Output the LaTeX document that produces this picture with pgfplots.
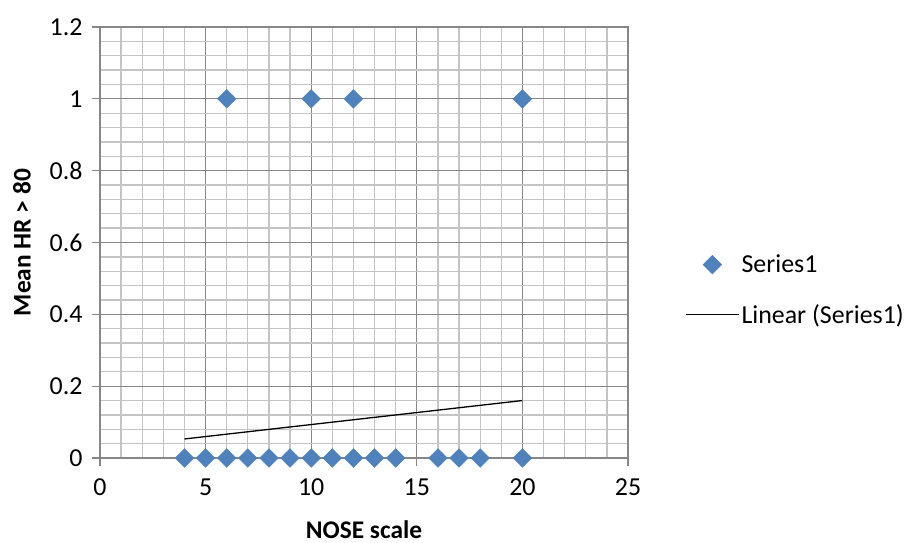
\documentclass[border=0pt]{standalone}
\usepackage{pgfplots}
\pgfplotsset{compat=1.18}
\usepackage{fontspec}
\setmainfont{Carlito}
\definecolor{serblue}{HTML}{4F81BD}
\definecolor{majgrid}{HTML}{878787}
\definecolor{mingrid}{HTML}{C4C4C4}
\begin{document}
\begin{tikzpicture}
\begin{axis}[
  at={(0bp,0bp)}, anchor=south west,
  scale only axis, width=528bp, height=431bp,
  xmin=0, xmax=25, ymin=0, ymax=1.2,
  xtick={0,5,10,15,20,25},
  ytick={0,0.2,0.4,0.6,0.8,1,1.2},
  minor x tick num=4, minor y tick num=4,
  grid=both,
  major grid style={color=majgrid, line width=1.3bp},
  minor grid style={color=mingrid, line width=1.3bp},
  axis line style={color=majgrid, line width=1.3bp},
  tick style={color=majgrid, line width=1.3bp},
  tick align=outside, xtick pos=bottom, ytick pos=left,
  major tick length=8bp, minor tick length=0pt,
  /pgf/number format/assume math mode=true,
  ticklabel style={font=\fontsize{26}{30}\selectfont, text=black},
  xticklabel style={yshift=-9bp},
  yticklabel style={xshift=-6bp},
  xlabel={\bfseries NOSE scale},
  ylabel={\bfseries Mean HR > 80},
  label style={font=\fontsize{25.5}{30}\selectfont},
  xlabel style={at={(axis description cs:0.5,-0.186)}, anchor=base, inner sep=0pt},
  ylabel style={at={(axis description cs:-0.1477,0.5)}, anchor=center, rotate=0},
  legend style={at={(axis description cs:1.108,0.39)}, anchor=west, draw=none, fill=none,
     inner sep=0pt, row sep=26bp, font=\fontsize{26}{30}\selectfont,
     nodes={inner sep=2bp}},
  legend cell align=left,
  legend image code/.code={\draw[mark repeat=2,mark phase=2,#1] plot coordinates {(0bp,0bp)(26.5bp,0bp)(53bp,0bp)};},
]
\addplot[only marks, mark=square*, mark size=6.6bp, mark options={rotate=45, fill=serblue, draw=serblue}, color=serblue]
coordinates {
(4,0)(5,0)(6,0)(7,0)(8,0)(9,0)(10,0)(11,0)(12,0)(13,0)(14,0)(16,0)(17,0)(18,0)(20,0)
(6,1)(10,1)(12,1)(20,1)
};
\addlegendentry{Series1}
\addplot[black, line width=1.3bp, no marks] coordinates {(4,0.053)(20,0.16)};
\addlegendentry{Linear (Series1)}
\end{axis}
\path[use as bounding box] (-100bp,-85bp) rectangle (811bp,458bp);
\end{tikzpicture}
\end{document}
